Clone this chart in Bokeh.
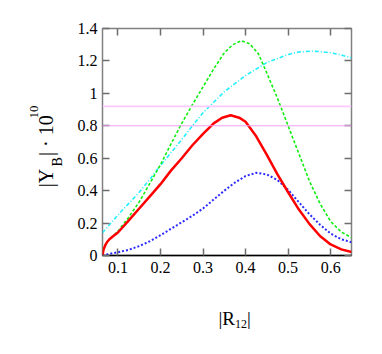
import math
from bokeh.plotting import figure
from bokeh.layouts import row, column
from bokeh.models import (Range1d, LinearAxis, FixedTicker, Span, Label,
                          CustomJSTickFormatter, CustomLabelingPolicy)
from bokeh.embed import file_html
from bokeh.resources import INLINE

# ---------------- data ----------------
x_red = [0.0637, 0.066, 0.070, 0.075, 0.080, 0.090, 0.100, 0.125, 0.150, 0.175, 0.200,
         0.225, 0.250, 0.275, 0.300, 0.325, 0.345, 0.365, 0.385, 0.400, 0.425, 0.450,
         0.475, 0.500, 0.525, 0.550, 0.575, 0.600, 0.625, 0.649]
y_red = [0.000, 0.035, 0.062, 0.085, 0.100, 0.122, 0.142, 0.215, 0.290, 0.365, 0.440,
         0.525, 0.600, 0.680, 0.750, 0.815, 0.850, 0.865, 0.850, 0.825, 0.735, 0.620,
         0.500, 0.390, 0.285, 0.195, 0.120, 0.068, 0.038, 0.022]

x_green = [0.0637, 0.070, 0.080, 0.090, 0.100, 0.125, 0.150, 0.175, 0.200, 0.225, 0.250,
           0.275, 0.300, 0.325, 0.350, 0.370, 0.390, 0.410, 0.430, 0.450, 0.475, 0.500,
           0.525, 0.550, 0.575, 0.600, 0.625, 0.649]
y_green = [0.030, 0.065, 0.100, 0.125, 0.150, 0.235, 0.330, 0.445, 0.560, 0.690, 0.815,
           0.930, 1.040, 1.150, 1.250, 1.300, 1.325, 1.305, 1.245, 1.125, 0.970, 0.800,
           0.630, 0.460, 0.320, 0.210, 0.145, 0.110]

x_cyan = [0.0637, 0.080, 0.100, 0.125, 0.150, 0.175, 0.200, 0.225, 0.250, 0.275, 0.300,
          0.325, 0.350, 0.375, 0.400, 0.425, 0.450, 0.475, 0.500, 0.525, 0.550, 0.575,
          0.600, 0.625, 0.649]
y_cyan = [0.140, 0.190, 0.250, 0.320, 0.390, 0.470, 0.555, 0.635, 0.715, 0.800, 0.880,
          0.945, 1.010, 1.060, 1.110, 1.150, 1.190, 1.215, 1.240, 1.255, 1.260, 1.258,
          1.250, 1.237, 1.218]

x_blue = [0.0637, 0.080, 0.100, 0.125, 0.150, 0.175, 0.200, 0.225, 0.250, 0.275, 0.300,
          0.325, 0.350, 0.375, 0.400, 0.425, 0.450, 0.475, 0.500, 0.525, 0.550, 0.575,
          0.600, 0.625, 0.649]
y_blue = [0.000, 0.010, 0.020, 0.035, 0.058, 0.088, 0.125, 0.165, 0.205, 0.245, 0.290,
          0.345, 0.400, 0.450, 0.490, 0.510, 0.500, 0.465, 0.405, 0.330, 0.255, 0.190,
          0.135, 0.100, 0.082]

h_lines = [0.92, 0.80]
h_colors = ["#ffc8ff", "#f0a0f0"]
h_widths = [1.6, 1.0]

x_ticks = [0.1, 0.2, 0.3, 0.4, 0.5, 0.6]
x_tick_labels = ["0.1", "0.2", "0.3", "0.4", "0.5", "0.6"]
y_ticks = [0.0, 0.2, 0.4, 0.6, 0.8, 1.0, 1.2, 1.4]
y_tick_labels = ["0", "0.2", "0.4", "0.6", "0.8", "1", "1.2", "1.4"]

x_lo, x_hi = 0.0637, 0.649
y_lo, y_hi = 0.0, 1.4

FONT = "Liberation Serif"

# ---------------- layout (pixels) ----------------
W, H = 374, 346          # whole page block
LW = 70                  # left strip holding the y title
BH = 51                  # bottom strip holding the x title
MW, MH = W - LW, H - BH  # main plot canvas
FRAME_LEFT = 102         # page x of the plot frame's left edge
BL, BT, BR = FRAME_LEFT - LW, 28, 11
FH = 227
BB = MH - BT - FH

p = figure(width=MW, height=MH, x_range=Range1d(x_lo, x_hi), y_range=Range1d(y_lo, y_hi),
           output_backend="svg", toolbar_location=None,
           min_border_left=BL, min_border_right=BR, min_border_top=BT, min_border_bottom=BB)
p.background_fill_color = "white"
p.border_fill_color = "white"
p.outline_line_color = "#808080"
p.outline_line_width = 1.5
p.xgrid.visible = False
p.ygrid.visible = False

fmt_code = """
let best = 0; let d = Infinity;
for (let i = 0; i < tvals.length; i++) { const e = Math.abs(tvals[i] - tick); if (e < d) { d = e; best = i; } }
return tlabels[best];
"""
hide_code = """
for (const i of Array.from(indices)) { indices.unset(i) }
return indices
"""

def style_axis(ax, ticks, labels, show_labels, line_color=None):
    ax.ticker = FixedTicker(ticks=ticks)
    ax.formatter = CustomJSTickFormatter(args=dict(tvals=ticks, tlabels=labels), code=fmt_code)
    ax.major_tick_in = 7
    ax.major_tick_out = 0
    ax.minor_tick_line_color = None
    ax.major_tick_line_color = "#6e6e6e"
    ax.major_tick_line_width = 1.5
    ax.axis_line_color = line_color
    ax.axis_line_width = 1.5
    ax.major_label_text_font = FONT
    ax.major_label_text_color = "black"
    ax.major_label_text_font_size = "16px"
    if not show_labels:
        ax.major_label_policy = CustomLabelingPolicy(code=hide_code)
        ax.major_label_standoff = 0

style_axis(p.xaxis[0], x_ticks, x_tick_labels, True, "black")
p.xaxis[0].major_label_standoff = 6
style_axis(p.yaxis[0], y_ticks, y_tick_labels, True, None)
p.yaxis[0].major_label_standoff = 5

ax_top = LinearAxis()
style_axis(ax_top, x_ticks, x_tick_labels, False, None)
p.add_layout(ax_top, "above")
ax_right = LinearAxis()
style_axis(ax_right, y_ticks, y_tick_labels, False, None)
p.add_layout(ax_right, "right")

# horizontal reference lines
for loc, c, w in zip(h_lines, h_colors, h_widths):
    p.add_layout(Span(location=loc, dimension="width", line_color=c, line_width=w))

# curves
p.line(x_cyan, y_cyan, line_color="#22eeff", line_width=1.6, line_dash="4 2 1 2")
p.line(x_blue, y_blue, line_color="#2a2aff", line_width=2.0, line_dash="2 2")
p.line(x_green, y_green, line_color="#11ee11", line_width=1.6, line_dash="3 2")
p.line(x_red, y_red, line_color="#ff0000", line_width=2.5)

# ---------------- axis titles in side strips ----------------
def strip(width, height):
    f = figure(width=width, height=height, x_range=Range1d(0, 1), y_range=Range1d(0, 1),
               output_backend="svg", toolbar_location=None,
               x_axis_location=None, y_axis_location=None, min_border=0)
    f.outline_line_color = None
    f.background_fill_color = "white"
    f.border_fill_color = "white"
    f.xgrid.visible = False
    f.ygrid.visible = False
    return f

def piece(text, sx, sy, size, angle=0.0):
    return Label(x=sx, y=sy, x_units="screen", y_units="screen", text=text,
                 text_font=FONT, text_font_size=f"{size}px", angle=angle,
                 text_align="left", text_baseline="alphabetic", text_color="black")

left = strip(LW, H)
rot = math.pi / 2
# positions given in page pixels (x from left, y from top), converted to strip coordinates
for txt, px_, py_, sz in [("|Y", 45, 186.7, 20), ("B", 57, 166, 14),
                          ("| \u00b7 10", 45, 155.5, 20), ("10", 33, 118, 13)]:
    left.add_layout(piece(txt, px_, H - py_, sz, rot))

# the bottom strip's frame is aligned with the main frame by the column layout
bottom = strip(MW, BH)
for txt, px_, py_, sz in [("|R", 218, 324, 19), ("12", 234.5, 329.5, 12), ("|", 246.5, 324, 19)]:
    bottom.add_layout(piece(txt, px_ - FRAME_LEFT, H - py_ + 6, sz))

layout = row(left, column(p, bottom, spacing=0), spacing=0)

open("out.html", "w").write(file_html(layout, INLINE))
